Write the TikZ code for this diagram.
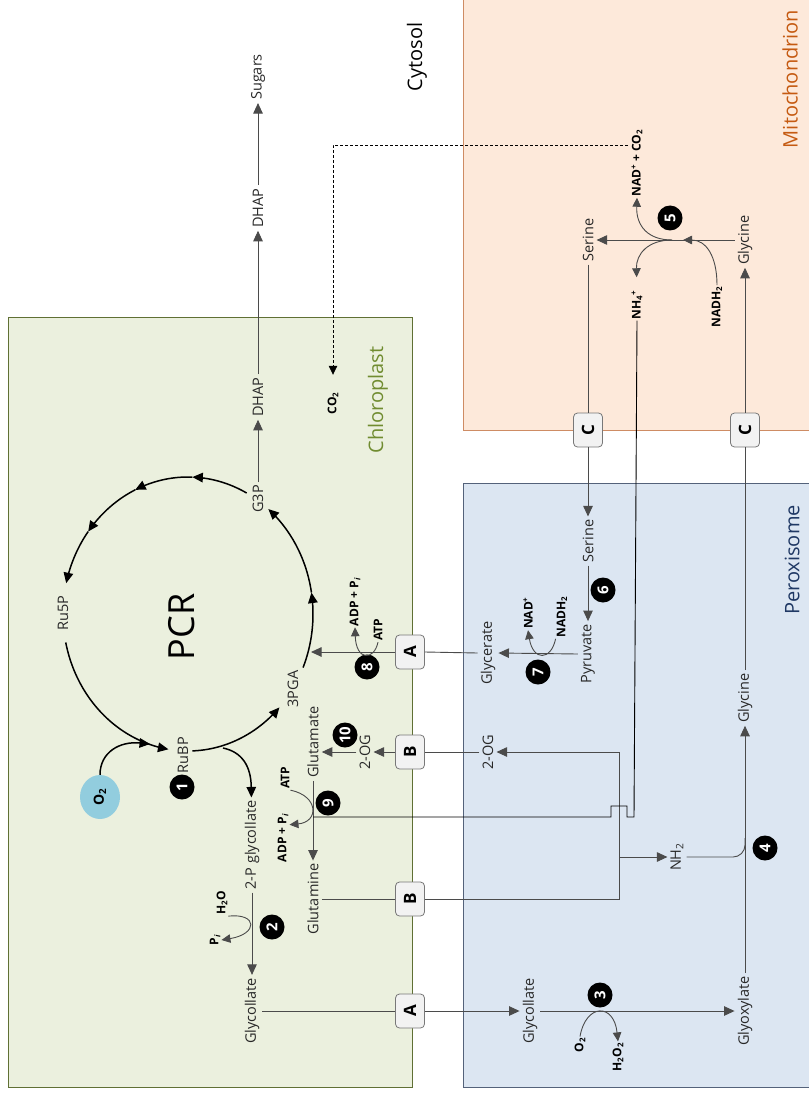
\documentclass[tikz,border=0pt]{standalone}
\usepackage{fontspec}
\setmainfont{Open Sans}
\usetikzlibrary{arrows.meta,calc,shapes.geometric}

\definecolor{chlfill}{RGB}{235,240,222}
\definecolor{chldraw}{RGB}{96,112,52}
\definecolor{chltext}{RGB}{112,140,48}
\definecolor{perfill}{RGB}{220,230,242}
\definecolor{perdraw}{RGB}{84,98,122}
\definecolor{pertext}{RGB}{31,56,100}
\definecolor{mitfill}{RGB}{253,233,218}
\definecolor{mitdraw}{RGB}{206,140,100}
\definecolor{mittext}{RGB}{197,90,17}
\definecolor{linegray}{RGB}{75,75,75}
\definecolor{txt}{RGB}{40,40,40}
\definecolor{oxblue}{RGB}{146,205,222}
\definecolor{boxfill}{RGB}{242,242,242}
\definecolor{boxdraw}{RGB}{120,120,120}

% one piece of the PCR cycle: from angle #1 to angle #2 on the ellipse
\newcommand{\cycpiece}[2]{%
  \draw[cyc,arr] plot[domain=#1:#2,samples=25,smooth] ({188+125*cos(\x)},{614+137*sin(\x)});}

\begin{document}
\begin{tikzpicture}[x=1pt,y=-1pt,
  lbl/.style={rotate=90,text=txt,font=\fontsize{14.5}{16}\selectfont,inner sep=3pt},
  sm/.style={rotate=90,text=black,font=\bfseries\fontsize{12}{13}\selectfont,inner sep=1pt},
  badge/.style={circle,fill=black,text=white,rotate=90,minimum size=25pt,inner sep=0pt,
    font=\bfseries\fontsize{15}{15}\selectfont},
  tbox/.style={rotate=90,draw=boxdraw,fill=boxfill,rounded corners=4pt,line width=0.8pt,
    minimum width=34pt,minimum height=29pt,inner sep=0pt,font=\bfseries\fontsize{17}{17}\selectfont},
  region/.style={rotate=90,font=\fontsize{20}{22}\selectfont},
  conn/.style={draw=linegray,line width=0.9pt},
  blk/.style={draw=black,line width=0.9pt},
  arr/.style={-{Triangle[length=10.5pt,width=9.5pt]}},
  sarr/.style={-{Triangle[length=9pt,width=8.5pt]}},
  side/.style={draw=linegray,line width=0.9pt,sarr},
  cyc/.style={draw=black,line width=1.5pt},
]
\useasboundingbox (0,0) rectangle (808,1099);
\fill[white] (0,0) rectangle (808,1099);

% compartments
\draw[fill=mitfill,draw=mitdraw,line width=0.9pt] (463,-10) rectangle (820,430);
\draw[fill=perfill,draw=perdraw,line width=0.9pt] (463,483) rectangle (820,1087);
\draw[fill=chlfill,draw=chldraw,line width=0.9pt] (8,317) rectangle (412,1087);

\node[region,text=chltext] (chl) at (378,400) {Chloroplast};
\node[region,text=pertext] (per) at (792,560) {Peroxisome};
\node[region,text=mittext] (mit) at (790,79) {Mitochondrion};
\node[region,text=black] (cyt) at (417,57) {Cytosol};

% chloroplast metabolites
\node[lbl] (dhapc) at (258,397) {DHAP};
\node[lbl] (dhapy) at (258,208) {DHAP};
\node[lbl] (sugars) at (258,77) {Sugars};
\node[lbl] (g3p) at (258,499) {G3P};
\node[sm] (co2) at (333,403) {CO\textsubscript{2}};
\node[lbl] (ru5p) at (63,613) {Ru5P};
\node[rotate=90,text=black,font=\fontsize{36}{40}\selectfont] (pcr) at (182,627) {PCR};
\node[lbl] (pga) at (293,689) {3PGA};
\node[lbl] (rubp) at (183,755) {RuBP};
\node[ellipse,fill=oxblue,rotate=90,minimum width=44pt,minimum height=40pt,inner sep=0pt,
  font=\bfseries\fontsize{14}{14}\selectfont] (o2) at (100,797) {O\textsubscript{2}};
\node[lbl] (pglyc) at (252,845) {2-P glycollate};
\node[lbl] (glycc) at (252,1011) {Glycollate};
\node[sm] (h2o) at (222,903) {H\textsubscript{2}O};
\node[sm] (pi2) at (215,940) {P\textsubscript{\itshape i}};
\node[lbl] (glu) at (313,742) {Glutamate};
\node[lbl] (gln) at (313,899) {Glutamine};
\node[lbl] (ogc) at (365,752) {2-OG};
\node[sm] (atp9) at (285,778) {ATP};
\node[sm] (adp9) at (283,838) {ADP + P\textsubscript{\itshape i}};
\node[sm] (atp8) at (378,630) {ATP};
\node[sm] (adp8) at (355,602) {ADP + P\textsubscript{\itshape i}};

% transporters
\node[tbox] (au) at (410,652) {A};
\node[tbox] (bu) at (410,752) {B};
\node[tbox] (bl) at (410,899) {B};
\node[tbox] (al) at (410,1011) {A};
\node[tbox] (cu) at (588,430) {C};
\node[tbox] (cl) at (745,430) {C};

% peroxisome metabolites
\node[lbl] (serp) at (588,541) {Serine};
\node[lbl] (pyr) at (588,654) {Pyruvate};
\node[lbl] (glyc) at (488,653) {Glycerate};
\node[lbl] (ogp) at (488,752) {2-OG};
\node[sm] (nad7) at (528,613) {NAD\textsuperscript{+}};
\node[sm] (nadh7) at (562,617) {NADH\textsubscript{2}};
\node[lbl] (glyp) at (745,698) {Glycine};
\node[lbl] (glyox) at (745,1011) {Glyoxylate};
\node[lbl] (glycp) at (530,1011) {Glycollate};
\node[lbl] (nh2) at (677,857) {NH\textsubscript{2}};
\node[sm] (o2p) at (580,1045) {O\textsubscript{2}};
\node[sm] (h2o2) at (618,1057) {H\textsubscript{2}O\textsubscript{2}};

% mitochondrion metabolites
\node[lbl] (serm) at (588,240) {Serine};
\node[lbl] (glym) at (745,240) {Glycine};
\node[sm] (nadco2) at (637,163) {NAD\textsuperscript{+} + CO\textsubscript{2}};
\node[sm] (nh4) at (637,305) {NH\textsubscript{4}\textsuperscript{+}};
\node[sm] (nadh5) at (717,307) {NADH\textsubscript{2}};

% reaction numbers
\node[badge] (b1) at (182,787) {1};
\node[badge] (b2) at (272,927) {2};
\node[badge] (b3) at (600,995) {3};
\node[badge] (b4) at (765,848) {4};
\node[badge] (b5) at (670,218) {5};
\node[badge] (b6) at (603,590) {6};
\node[badge] (b7) at (538,672) {7};
\node[badge] (b8) at (367,667) {8};
\node[badge] (b9) at (328,803) {9};
\node[badge] (b10) at (345,735) {10};

% junction points
\coordinate (ain) at (311,652);
\coordinate (rbr) at (223,748);
\coordinate (j2og) at (619,752);
\coordinate (jnh) at (619,857);
\coordinate (j4) at (745,838);
\coordinate (j9) at (313,817);
\coordinate (m5) at (683,240);
\coordinate (s5) at (672,240);
\coordinate (dsh) at (628,145);

% PCR cycle
\cycpiece{88}{43}
\cycpiece{23}{-9}
\cycpiece{-9}{-50}
\cycpiece{-62}{-88}
\cycpiece{-88}{-115}
\cycpiece{-115}{-143}
\cycpiece{-143}{-167}
\cycpiece{168}{99}
\draw[cyc,arr] (o2) .. controls (100,752) and (120,741) .. (150,744);
\draw[cyc,arr] (rbr) .. controls (242,752) and (251,766) .. (pglyc);

% export of triose phosphate
\draw[conn,arr] (g3p) -- (dhapc);
\draw[conn,arr] (dhapc) -- (dhapy);
\draw[conn,arr] (dhapy) -- (sugars);

% CO2 released in the mitochondrion
\draw[blk,line width=0.8pt,dash pattern=on 3pt off 2pt,sarr,shorten >=16pt] (dsh) -| (co2);

% reaction 2
\draw[conn,arr] (pglyc) -- (glycc);
\draw[side] (h2o.south west) .. controls (258,913) and (258,934) .. (pi2.south);

% reactions 9 and 10
\draw[conn,arr] (glu) -- (gln);
\draw[side] (atp9.south west) .. controls (319,796) and (319,822) .. ([yshift=-12pt]adp9.south east);
\draw[conn,arr] (ogc.north) -- (ogc.north -| glu.south);

% reaction 8
\draw[side] (atp8.west) .. controls (374,661) and (356,661) .. (adp8.west);

% transport across the chloroplast envelope
\draw[conn] (glyc.north) -- (au.south);
\draw[conn,arr] (au.north) -- (ain);
\draw[conn] (ogp.north) -- (bu.south);
\draw[conn,arr] (bu.north) -- (ogc.south);
\draw[conn] (gln.south) -- (bl.north);
\draw[conn] (glycc.south) -- (al.north);
\draw[conn,arr] (al.south) -- (glycp.north);

% glutamine / 2-OG / amino group in the peroxisome
\draw[conn] (bl.south) -| (j2og);
\draw[conn,arr] (j2og) -- (ogp.south);
\draw[conn,arr] (jnh) -- (nh2.north);

% NH4+ returned to the chloroplast, hopping over the glutamine line
\draw[blk] (nh4.west) -- (634,817) -- (627,817) -- (627,806) -- (611,806) -- (611,817) -- (j9);

% reactions 6 and 7
\draw[conn,arr] (serp) -- (pyr);
\draw[conn,arr] (pyr.north) -- (glyc.south);
\draw[side] (nadh7.north west) .. controls (551,661) and (533,661) .. (nad7.west);

% reaction 3
\draw[conn,arr] (glycp.south) -- (glyox.north);
\draw[side] (o2p.east) .. controls (586,1003) and (614,1003) .. (h2o2.east);

% reaction 4
\draw[conn,arr] (glyox) -- (glyp);
\draw[conn,rounded corners=12pt] (nh2.south) -| (j4);

% serine and glycine shuttle through the mitochondrion
\draw[conn] (glyp.east) -- (cl.west);
\draw[conn,arr] (cl.east) -- (glym.west);
\draw[conn] (serm.west) -- (cu.east);
\draw[conn,arr] (cu.west) -- (serp.east);

% reaction 5
\draw[conn,arr] (glym.north) -- (serm.south);
\draw[side] (nadh5.east) .. controls (717,256) and (706,240) .. (m5);
\draw[side] (s5) .. controls (648,240) and (636,226) .. (nadco2.west);
\draw[side,shorten >=12pt] (s5) .. controls (648,240) and (636,254) .. (nh4.east);
\end{tikzpicture}
\end{document}
